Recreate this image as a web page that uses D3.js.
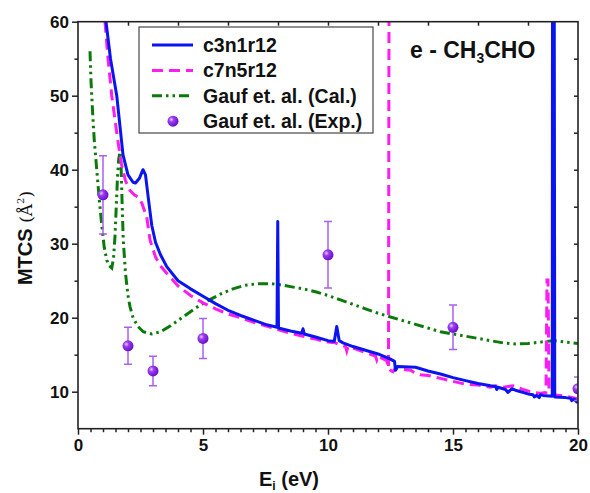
<!DOCTYPE html>
<html>
<head>
<meta charset="utf-8">
<script src="https://cdn.jsdelivr.net/npm/d3@7"></script>
<style>
  body { margin: 0; background: #fff; }
  text { font-family: Arial, "Liberation Sans", sans-serif; }
</style>
</head>
<body>
<div id="viz"></div>
<script>
// c3n1r12 (solid blue)
let blueE = [1.12,1.3,1.55,1.8,2.0,2.2,2.3,2.45,2.6,2.7,2.8,2.95,3.1,3.3,3.55,4.0,4.5,5.0,5.5,6.0,6.5,7.0,7.5,7.96,7.99,8.02,8.5,8.95,9.0,9.05,9.5,10.0,10.25,10.35,10.45,10.6,11.0,11.5,12.0,12.5,12.66,12.7,12.78,13.5,14.0,14.5,15.0,15.5,16.0,16.5,16.7,16.75,16.8,17.1,17.2,17.35,17.5,18.0,18.2,18.25,18.35,18.45,18.5,18.6,18.97,18.98,19.05,19.07,19.5,19.7,19.75,19.85,19.95,20.0];
let blueS = [60,55,50,42,39.3,38.3,38.2,38.8,40.0,39.3,36.5,32.5,30.2,28.5,26.9,25.0,23.9,22.9,21.9,21.0,20.3,19.7,19.1,18.7,33.0,18.6,18.2,17.9,18.5,17.8,17.4,16.9,16.8,18.8,16.9,16.6,16.1,15.6,15.1,14.4,14.1,12.9,13.4,13.3,12.8,12.4,11.9,11.5,11.1,10.8,10.7,10.3,10.6,10.3,9.9,10.4,10.2,9.7,9.6,9.3,9.5,9.2,9.6,9.5,9.4,62,62,9.3,9.2,9.1,8.8,9.0,8.6,8.6];

// c7n5r12 (dashed magenta); null starts a new stroke above the frame
let pinkE = [1.08,1.2,1.35,1.55,1.72,1.9,2.08,2.25,2.41,2.55,2.75,2.88,3.1,3.3,3.55,4.0,4.5,5.0,5.5,6.0,6.5,7.0,7.5,8.0,8.5,9.0,9.5,10.0,10.3,10.5,10.7,10.75,10.8,11.0,11.5,11.9,11.95,12.0,12.35,12.42,12.44,null,12.47,12.5,12.6,12.7,13.0,13.3,13.5,13.7,14.0,14.5,15.0,15.5,16.0,16.5,16.7,17.0,17.4,17.8,18.2,18.5,18.72,18.76,18.8,18.84,19.0,19.5,19.8,20.0];
let pinkS = [60,55,50,45,41,38.5,37.2,36.6,36.3,35.5,33.6,30.5,28.2,27.0,26.0,24.3,23.0,22.0,21.2,20.5,20.0,19.4,18.9,18.4,17.9,17.5,17.1,16.7,16.6,16.3,16.1,15.5,16.1,15.9,15.3,14.8,14.3,14.8,14.2,13.2,62,null,13.0,12.9,12.7,13.2,13.0,12.9,12.5,12.3,12.2,11.8,11.4,11.0,10.9,10.6,10.8,10.6,10.8,10.3,9.9,9.8,9.9,25.1,25.1,10.2,9.6,9.4,9.2,9.0];

// Gauf et. al. (Cal.) (dash-dot-dot green)
let calE = [0.48,0.52,0.58,0.65,0.75,0.85,0.95,1.05,1.15,1.25,1.35,1.42,1.48,1.53,1.58,1.63,1.68,1.72,1.76,1.81,1.9,2.0,2.08,2.2,2.4,2.61,2.95,3.3,3.7,4.2,4.7,5.2,5.7,6.2,6.7,7.2,7.7,8.2,8.5,9.0,9.5,10.0,10.5,11.0,11.5,12.0,12.5,13.0,13.5,14.0,14.5,15.0,15.5,16.0,16.5,17.0,17.5,18.0,18.5,19.0,19.5,20.0];
let calS = [56,52,48,44,40,36,32.5,29.5,27.8,27.0,26.7,28,31,35,39,41.5,42.4,41,36,30.5,26,23,21.5,20,18.8,18.1,17.8,18.1,18.9,20.1,21.3,22.3,23.2,23.9,24.4,24.6,24.6,24.4,24.2,23.9,23.5,23.0,22.4,21.8,21.2,20.6,20.1,19.6,19.1,18.6,18.1,17.8,17.5,17.2,16.9,16.6,16.45,16.5,16.7,16.9,16.7,16.5];

// Gauf et. al. (Exp.)
let expE = [1,2,3,5,10,15,20];
let expS = [36.6,16.2,12.8,17.2,28.5,18.7,10.4];
let expErr = [5.3,2.5,2.0,2.7,4.5,3.0,1.6];

let xTicks = [0,5,10,15,20];
let yTicks = [10,20,30,40,50,60];

let width = 590, height = 493;

let x = d3.scaleLinear().domain([0,20]).range([78,578]);
let y = d3.scaleLinear().domain([5,60]).range([428.7,21.7]);

let svg = d3.select('#viz').append('svg')
    .attr('width',width)
    .attr('height',height);

let defs = svg.append('defs');
defs.append('clipPath').attr('id','plotclip')
  .append('rect')
    .attr('x',x(0)).attr('y',y(60))
    .attr('width',x(20)-x(0)).attr('height',y(5)-y(60));
let grad = defs.append('radialGradient').attr('id','ball')
    .attr('cx','35%').attr('cy','35%').attr('r','65%');
grad.append('stop').attr('offset','0%').attr('stop-color','#e6ccff');
grad.append('stop').attr('offset','35%').attr('stop-color','#9b3cf0');
grad.append('stop').attr('offset','100%').attr('stop-color','#6a12c8');

// axes
let xAxis = d3.axisBottom(x).tickValues(xTicks).tickSize(6).tickPadding(4);
let xMinor = d3.axisBottom(x).tickValues(d3.range(0.5,20,0.5).filter(v => v % 5 !== 0)).tickSize(3.5).tickFormat('');
let yAxis = d3.axisLeft(y).tickValues(yTicks).tickSize(6).tickPadding(3);
let yMinor = d3.axisLeft(y).tickValues([15,25,35,45,55]).tickSize(3.5).tickFormat('');
let xTop = d3.axisBottom(x).tickValues(d3.range(2,20,2)).tickSize(4).tickFormat('');
let yRight = d3.axisLeft(y).tickValues(d3.range(10,60,5)).tickSize(4).tickFormat('');

function styleAxis(g){
  g.select('.domain').remove();
  g.selectAll('line').attr('stroke','#222').attr('stroke-width',1.5);
  g.selectAll('text').attr('font-size',17).attr('font-weight','bold').attr('fill','#111');
}

svg.append('g').attr('transform','translate(0,'+y(5)+')').call(xAxis).call(styleAxis);
svg.append('g').attr('transform','translate(0,'+y(5)+')').call(xMinor).call(styleAxis);
svg.append('g').attr('transform','translate('+x(0)+',0)').call(yAxis).call(styleAxis);
svg.append('g').attr('transform','translate('+x(0)+',0)').call(yMinor).call(styleAxis);
svg.append('g').attr('transform','translate(0,'+y(60)+')').call(xTop).call(styleAxis);
svg.append('g').attr('transform','translate('+x(20)+',0)').call(yRight).call(styleAxis);

let plot = svg.append('g').attr('clip-path','url(#plotclip)');

let line = d3.line()
    .defined(d => d[0] !== null && d[1] !== null)
    .x(d => x(d[0])).y(d => y(d[1]));

plot.append('path')
    .datum(d3.zip(calE,calS))
    .attr('d',line)
    .attr('fill','none')
    .attr('stroke','#0b7a0b')
    .attr('stroke-width',3)
    .attr('stroke-dasharray','10,4,2.5,4,2.5,4');

plot.append('path')
    .datum(d3.zip(pinkE,pinkS))
    .attr('d',line)
    .attr('fill','none')
    .attr('stroke','#ff1cf0')
    .attr('stroke-width',3)
    .attr('stroke-dasharray','11,6');

plot.append('path')
    .datum(d3.zip(blueE,blueS))
    .attr('d',line)
    .attr('fill','none')
    .attr('stroke','#0a14f0')
    .attr('stroke-width',3)
    .attr('stroke-linejoin','round');

let exp = d3.zip(expE,expS,expErr);
let bars = plot.selectAll('.err').data(exp).enter().append('g').attr('class','err');
bars.append('line')
    .attr('x1',d => x(d[0])).attr('x2',d => x(d[0]))
    .attr('y1',d => y(d[1]+d[2])).attr('y2',d => y(d[1]-d[2]))
    .attr('stroke','#a660f2').attr('stroke-width',1.5);
bars.append('line')
    .attr('x1',d => x(d[0])-4).attr('x2',d => x(d[0])+4)
    .attr('y1',d => y(d[1]+d[2])).attr('y2',d => y(d[1]+d[2]))
    .attr('stroke','#a660f2').attr('stroke-width',1.5);
bars.append('line')
    .attr('x1',d => x(d[0])-4).attr('x2',d => x(d[0])+4)
    .attr('y1',d => y(d[1]-d[2])).attr('y2',d => y(d[1]-d[2]))
    .attr('stroke','#a660f2').attr('stroke-width',1.5);
plot.selectAll('.pt').data(exp).enter().append('circle')
    .attr('cx',d => x(d[0])).attr('cy',d => y(d[1]))
    .attr('r',5.5)
    .attr('fill','url(#ball)');

// frame
svg.append('rect')
    .attr('x',x(0)).attr('y',y(60))
    .attr('width',x(20)-x(0)).attr('height',y(5)-y(60))
    .attr('fill','none').attr('stroke','#222').attr('stroke-width',1.6);

// legend
let leg = svg.append('g');
leg.append('rect').attr('x',139).attr('y',27).attr('width',234).attr('height',106)
    .attr('fill','#fff').attr('stroke','#222').attr('stroke-width',1);
let legItems = [
  {name:'c3n1r12', color:'#0a14f0', dash:null},
  {name:'c7n5r12', color:'#ff1cf0', dash:'11,6'},
  {name:'Gauf et. al. (Cal.)', color:'#0b7a0b', dash:'10,4,2.5,4,2.5,4'},
  {name:'Gauf et. al. (Exp.)', color:null, dash:null}
];
legItems.forEach(function(d,i){
  let cy = 45 + i*25.4;
  if(d.color){
    leg.append('line').attr('x1',152).attr('x2',193).attr('y1',cy).attr('y2',cy)
      .attr('stroke',d.color).attr('stroke-width',3)
      .attr('stroke-dasharray',d.dash);
  } else {
    leg.append('circle').attr('cx',173).attr('cy',cy).attr('r',5.5).attr('fill','url(#ball)');
  }
  leg.append('text').attr('x',203).attr('y',cy+7)
    .attr('font-size',19.5).attr('font-weight','bold').attr('fill','#111')
    .text(d.name);
});

// title
let title = svg.append('text').attr('x',410).attr('y',58)
    .attr('font-size',23).attr('font-weight','bold').attr('fill','#111');
title.append('tspan').text('e - CH');
title.append('tspan').attr('font-size',14).attr('dy',5).text('3');
title.append('tspan').attr('dy',-5).text('CHO');

// axis labels
let xl = svg.append('text').attr('x',289).attr('y',486)
    .attr('text-anchor','middle').attr('font-size',20).attr('font-weight','bold').attr('fill','#111');
xl.append('tspan').text('E');
xl.append('tspan').attr('font-size',12).attr('dy',4).text('i');
xl.append('tspan').attr('dy',-4).text(' (eV)');

let yl = svg.append('text')
    .attr('transform','translate(32,238) rotate(-90)')
    .attr('text-anchor','middle').attr('font-size',20).attr('fill','#111');
yl.append('tspan').attr('font-weight','bold').text('MTCS ');
yl.append('tspan').attr('font-family','DejaVu Serif').attr('font-size',17).text('(Å');
yl.append('tspan').attr('font-family','DejaVu Serif').attr('font-size',10).attr('dy',-8).text('2');
yl.append('tspan').attr('font-family','DejaVu Serif').attr('font-size',17).attr('dy',8).text(')');
</script>
</body>
</html>
